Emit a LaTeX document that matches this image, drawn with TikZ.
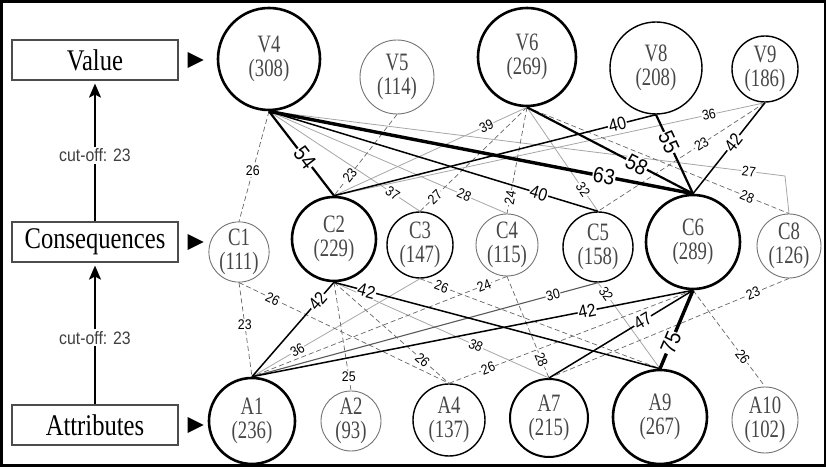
\documentclass[tikz,border=0pt]{standalone}
\usepackage{fontspec}
\setmainfont{Liberation Serif}
\newfontfamily\numfont[FakeStretch=0.75]{Liberation Serif}
\newfontfamily\boxfont[FakeStretch=0.82]{Liberation Serif}
\newfontfamily\lblfont[FakeStretch=0.88]{Liberation Sans}
\usetikzlibrary{positioning,arrows.meta}

\begin{document}
\begin{tikzpicture}[x=0.5pt,y=-0.5pt,
  lvl/.style={draw=black!70,line width=0.6pt,minimum width=83pt,minimum height=20pt,inner sep=0pt,font=\boxfont\fontsize{15}{15}\selectfont},
  vnode/.style={circle,inner sep=0pt,align=center,text=black!72,font=\numfont\fontsize{12.5}{12}\selectfont},
  bigc/.style={vnode,draw,line width=1.3pt},
  midc/.style={vnode,draw,line width=0.7pt},
  lowc/.style={vnode,draw=black!55,line width=0.45pt},
  dashln/.style={draw=black!60,line width=0.35pt,dash pattern=on 2.5pt off 1.5pt},
  grayln/.style={draw=black!35,line width=0.4pt},
  darkln/.style={draw=black!65,line width=0.55pt},
  blkln/.style={draw=black,line width=0.75pt},
  thkln/.style={draw=black,line width=1.1pt},
  hvyln/.style={draw=black,line width=1.7pt},
  lab/.style={fill=white,inner sep=0.4pt,font=\lblfont\fontsize{7}{7}\selectfont},
  slab/.style={lab,sloped},
  mlab/.style={slab,font=\lblfont\fontsize{9}{9}\selectfont},
  blab/.style={slab,font=\lblfont\fontsize{11}{11}\selectfont}]
\useasboundingbox (0,0) rectangle (827,469);
\draw[line width=1.3pt] (1.5,1.5) rectangle (825,465.5);

\node[lvl] (val) at (95,60) {Value};
\node[lvl] (cons) at (95,242) {Consequences};
\node[lvl] (att) at (95,425) {Attributes};
\fill ([xshift=4.5pt]val.east) ++(0,-8) -- ++(16,8) -- ++(-16,8) -- cycle;
\fill ([xshift=4.5pt]cons.east) ++(0,-8) -- ++(16,8) -- ++(-16,8) -- cycle;
\fill ([xshift=4.5pt]att.east) ++(0,-8) -- ++(16,8) -- ++(-16,8) -- cycle;
\draw[line width=0.7pt,-{Stealth[length=7pt,width=6pt,inset=1.5pt]}] (att.north) -- node[pos=.48,fill=white,inner sep=1pt,text=black!75,font=\lblfont\fontsize{9}{9}\selectfont] {cut-off: 23} ([yshift=-1.5pt]cons.south);
\draw[line width=0.7pt,-{Stealth[length=7pt,width=6pt,inset=1.5pt]}] (cons.north) -- node[pos=.48,fill=white,inner sep=1pt,text=black!75,font=\lblfont\fontsize{9}{9}\selectfont] {cut-off: 23} ([yshift=-1.5pt]val.south);

\node[bigc,minimum size=51pt] (V4) at (269,59) {V4\\(308)};
\node[lowc,minimum size=37pt] (V5) at (397,77) {V5\\(114)};
\node[bigc,minimum size=49pt] (V6) at (527,57) {V6\\(269)};
\node[midc,minimum size=46pt] (V8) at (656,68) {V8\\(208)};
\node[midc,minimum size=33pt] (V9) at (765,69) {V9\\(186)};

\node[lowc,minimum size=30pt] (C1) at (239,252) {C1\\(111)};
\node[bigc,minimum size=42pt] (C2) at (334,239) {C2\\(229)};
\node[midc,minimum size=33pt] (C3) at (420,245) {C3\\(147)};
\node[lowc,minimum size=31pt] (C4) at (507,245) {C4\\(115)};
\node[midc,minimum size=35pt] (C5) at (598,247) {C5\\(158)};
\node[bigc,minimum size=47pt] (C6) at (693,242) {C6\\(289)};
\node[lowc,minimum size=32pt] (C8) at (789,246) {C8\\(126)};

\node[bigc,minimum size=43pt] (A1) at (252,421) {A1\\(236)};
\node[lowc,minimum size=30pt] (A2) at (351,421) {A2\\(93)};
\node[midc,minimum size=36pt] (A4) at (449,420) {A4\\(137)};
\node[bigc,line width=1pt,minimum size=39pt] (A7) at (549,418) {A7\\(215)};
\node[bigc,minimum size=47pt] (A9) at (660,417) {A9\\(267)};
\node[lowc,minimum size=33pt] (A10) at (765,420) {A10\\(102)};

\coordinate (bend) at (785,176);

\draw[grayln] (V4.south) -- node[slab,pos=.82] {37} (C3.north);
\draw[grayln] (V4.south) -- node[slab,pos=.82] {28} (C4.north);
\draw[grayln] (V4.south) -- node[slab,pos=.93] {27} (bend) -- (C8.north);
\draw[grayln] (V6.south) -- node[slab,pos=.21] {39} (C2.north);
\draw[grayln] (V6.south) -- node[slab,pos=.79] {32} (C5.north);
\draw[grayln] (C2.north) -- node[slab,pos=.87] {36} (V9.south);
\draw[grayln] (C2.south) -- node[slab,pos=.66] {38} (A7.north);
\draw[grayln] (C3.south) -- node[slab,pos=.73] {36} (A1.north);
\draw[grayln] (C5.south) -- node[slab,pos=.13] {32} (A9.north);
\draw[darkln] (C5.south) -- node[slab,pos=.13] {30} (A1.north);

\draw[dashln] (V4.south) -- node[lab,pos=.54] {26} (C1.north);
\draw[dashln] (V5.south) -- node[slab,pos=.75] {23} (C2.north);
\draw[dashln] (V6.south) -- node[slab,pos=.86] {27} (C3.north);
\draw[dashln] (V6.south) -- node[slab,pos=.85] {24} (C4.north);
\draw[dashln] (V6.south) -- node[slab,pos=.84] {28} (C8.north);
\draw[dashln] (V9.south) -- node[slab,pos=.38] {23} (C5.north);
\draw[dashln] (C1.south) -- node[lab,pos=.45] {23} (A1.north);
\draw[dashln] (C1.south) -- node[slab,pos=.16] {26} (A4.north);
\draw[dashln] (C2.south) -- node[lab,pos=.87] {25} (A2.north);
\draw[dashln] (C2.south) -- node[slab,pos=.77] {26} (A4.north);
\draw[dashln] (C3.south) -- node[slab,pos=.09] {26} (A9.north);
\draw[dashln] (C4.south) -- node[slab,pos=.09] {24} (A1.north);
\draw[dashln] (C4.south) -- node[slab,pos=.82] {28} (A7.north);
\draw[dashln] (C6.south) -- node[slab,pos=.84] {26} (A4.north);
\draw[dashln] (C6.south) -- node[slab,pos=.69] {26} (A10.north);
\draw[dashln] (C8.south) -- node[slab,pos=.15] {23} (A7.north);

\draw[blkln] (V4.south) -- node[mlab,pos=.82] {40} (C5.north);
\draw[blkln] (C2.north) -- node[mlab,pos=.88] {40} (V8.south);
\draw[blkln] (V9.south) -- node[mlab,pos=.44] {42} (C6.north);
\draw[blkln] (C2.south) -- node[mlab,pos=.2] {42} (A1.north);
\draw[blkln] (C2.south) -- node[mlab,pos=.1] {42} (A9.north);
\draw[blkln] (C6.south) -- node[mlab,pos=.24] {42} (A1.north);
\draw[blkln] (C6.south) -- node[mlab,pos=.35] {47} (A7.north);
\draw[thkln] (V4.south) -- node[blab,pos=.55] {54} (C2.north);
\draw[thkln] (V6.south) -- node[blab,pos=.66] {58} (C6.north);
\draw[thkln] (V8.south) -- node[blab,pos=.35] {55} (C6.north);
\draw[hvyln] (V4.south) -- node[blab,pos=.79] {63} (C6.north);
\draw[hvyln] (C6.south) -- node[blab,pos=.67] {75} (A9.north);
\end{tikzpicture}
\end{document}
